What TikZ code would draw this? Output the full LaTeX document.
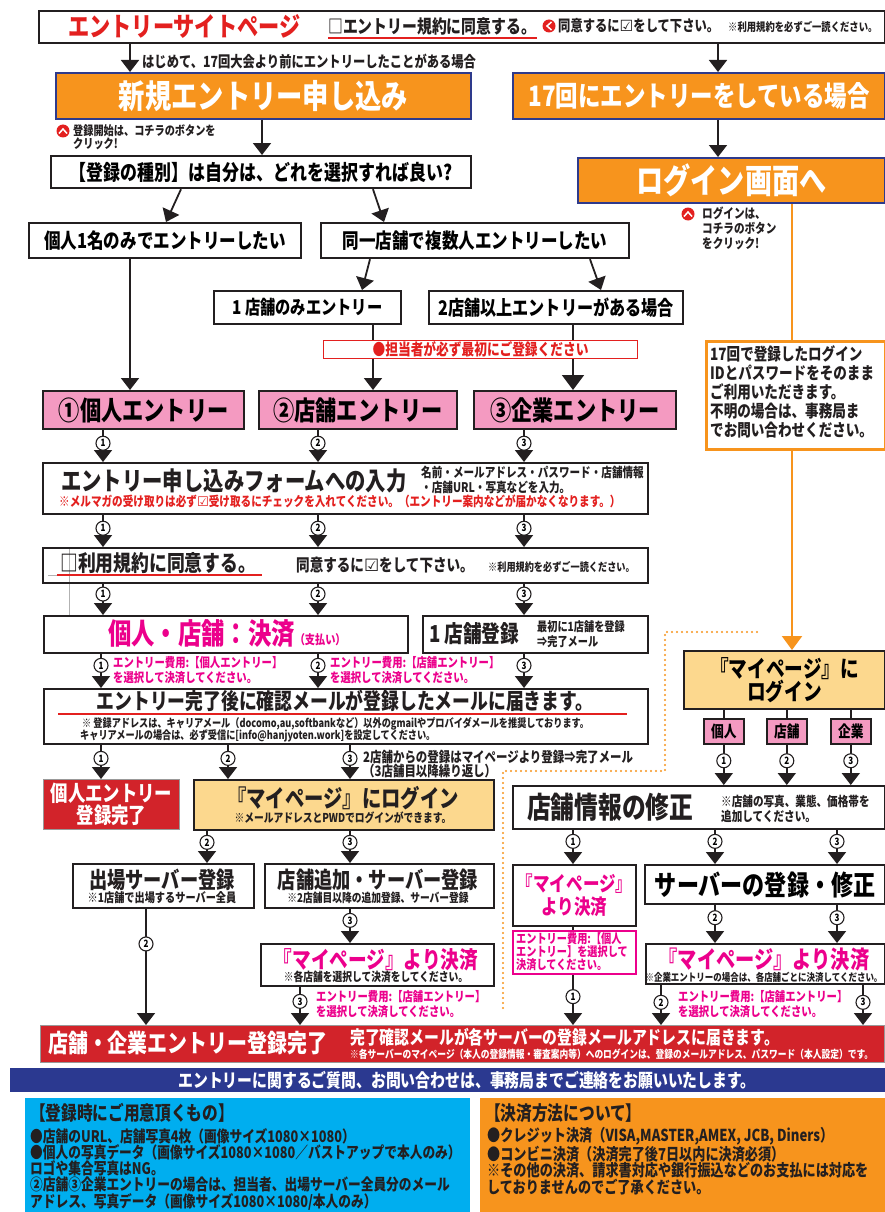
\documentclass[tikz,border=0pt]{standalone}
\usepackage{fontspec}
\setmainfont{Noto Sans CJK JP}[FakeStretch=0.8]
\newfontfamily\dv{DejaVu Sans}
\usetikzlibrary{arrows.meta}
\definecolor{dk}{HTML}{231F20}
\definecolor{orng}{HTML}{F7941D}
\definecolor{nv}{HTML}{2E3A8C}
\definecolor{rtxt}{HTML}{E3201F}
\definecolor{pinkf}{HTML}{F49AC1}
\definecolor{mag}{HTML}{EC008C}
\definecolor{redf}{HTML}{D2232A}
\definecolor{beige}{HTML}{FCD88E}
\definecolor{band}{HTML}{2B3990}
\definecolor{cyanf}{HTML}{00AEEF}
\newcommand\fz[1]{\fontsize{\fpeval{#1*1.06}}{\fpeval{#1*1.06}}\selectfont\bfseries}
\newcommand\fzs[2]{\fontsize{\fpeval{#1*1.06}}{#2}\selectfont\bfseries}
\newcommand\ck{{\dv\mdseries\char"2611}}
\tikzset{
 bx/.style={draw=dk, line width=2.2pt, fill=white, inner sep=0pt, anchor=north west},
 obx/.style={bx, draw=nv, line width=2pt, fill=orng, text=white},
 pbx/.style={bx, fill=pinkf},
 rbx/.style={bx, draw=black!40, line width=1pt, fill=redf, text=white},
 ybx/.style={bx, fill=beige},
 kbx/.style={bx, line width=1.6pt, fill=pinkf},
 tx/.style={inner sep=0pt, anchor=west, text=dk},
 tc/.style={inner sep=0pt, text=dk},
 arr/.style={draw=dk, line width=1.8pt, -{Triangle[width=18pt,length=12pt]}},
 ln/.style={draw=dk, line width=1.8pt},
 oarr/.style={draw=orng, line width=2.2pt, -{Triangle[width=20pt,length=14pt]}},
 num/.style={circle, draw=dk, line width=1.1pt, fill=white, inner sep=0pt, minimum size=14pt, font=\fz{9.5}},
 icon/.style={circle, fill=rtxt, inner sep=0pt, minimum size=13pt},
 uline/.style={draw=rtxt, line width=1.6pt},
}
\begin{document}
\begin{tikzpicture}[x=1pt,y=-1pt]
\useasboundingbox (0,0) rectangle (885,1212);
\fill[white] (0,0) rectangle (885,1212);
% column coordinates
\coordinate (Xa) at (130,0);
\coordinate (Xb) at (718,0);
\coordinate (Xc) at (262,0);
\coordinate (Xd) at (181,0);
\coordinate (Xe) at (166,0);
\coordinate (Xf) at (373,0);
\coordinate (Xg) at (384,0);
\coordinate (Xh) at (370,0);
\coordinate (Xi) at (362,0);
\coordinate (Xj) at (590,0);
\coordinate (Xk) at (601,0);
\coordinate (Xl) at (573,0);
\coordinate (Xo) at (792,0);
\coordinate (C1) at (103,0);
\coordinate (C2) at (318,0);
\coordinate (C3) at (524,0);
\coordinate (D1) at (101,0);
\coordinate (D2) at (228,0);
\coordinate (D3) at (350,0);
\coordinate (E2) at (207,0);
\coordinate (F1) at (146,0);
\coordinate (F3) at (300,0);
\coordinate (G1) at (573,0);
\coordinate (G2) at (715,0);
\coordinate (G3) at (837,0);
\coordinate (H2) at (661,0);
\coordinate (H3) at (863,0);

% ---------- top bar
\node[bx, minimum width=846, minimum height=32] (top) at (38,10) {};
\node[tx, text=rtxt, font=\fz{25}] (topT) at (68,26) {エントリーサイトページ};
\node[tx, font=\fz{17.5}] (topA) at (328,26) {□エントリー規約に同意する。};
\draw[uline] (328,38) -- (537,38);
\node[icon] (ic1) at (549,26) {};
\draw[white, line width=1.5pt] (551.5,22) -- (547,26) -- (551.5,30);
\node[tx, font=\fz{14.5}] (topB) at (558,26) {同意するに\ck をして下さい。};
\node[tx, font=\fz{11}] (topC) at (728,27) {※利用規約を必ずご一読ください。};

\node[tx, font=\fz{14.5}] (lbl1) at (142,62) {はじめて、17回大会より前にエントリーしたことがある場合};

\node[obx, minimum width=415, minimum height=46, font=\fz{31}] (new) at (55,72) {新規エントリー申し込み};
\node[obx, minimum width=372, minimum height=46, font=\fz{26.5}] (e17) at (512,72) {17回にエントリーをしている場合};

\node[icon] (ic2) at (63,131) {};
\draw[white, line width=1.5pt] (59,133.5) -- (63,129) -- (67,133.5);
\node[tx, font=\fzs{12}{13.5}, align=left] (note1) at (73,137) {登録開始は、コチラのボタンを\\クリック!};

\node[bx, minimum width=420, minimum height=32, font=\fz{20}] (kind) at (50,155) {【登録の種別】は自分は、どれを選択すれば良い?};
\node[obx, minimum width=307, minimum height=45, font=\fz{32}] (login) at (577,157) {ログイン画面へ};

\node[icon] (ic3) at (688,214) {};
\draw[white, line width=1.5pt] (684,216.5) -- (688,212) -- (692,216.5);
\node[tx, font=\fzs{12.5}{15}, align=left] (note2) at (702,228) {ログインは、\\コチラのボタン\\をクリック!};

\node[bx, minimum width=272, minimum height=35, font=\fz{19.5}] (solo) at (28,222) {個人1名のみでエントリーしたい};
\node[bx, minimum width=308, minimum height=35, font=\fz{19.5}] (multi) at (320,222) {同一店舗で複数人エントリーしたい};
\node[bx, minimum width=187, minimum height=33, font=\fz{18}] (one) at (213,290) {1\,店舗のみエントリー};
\node[bx, minimum width=254, minimum height=33, font=\fz{19}] (two) at (428,290) {2店舗以上エントリーがある場合};

\node[pbx, minimum width=201, minimum height=38, font=\fz{25}] (p1) at (42,390) {①個人エントリー};
\node[pbx, minimum width=198, minimum height=38, font=\fz{25}] (p2) at (258,390) {②店舗エントリー};
\node[pbx, minimum width=202, minimum height=38, font=\fz{25}] (p3) at (473,390) {③企業エントリー};

\node[bx, draw=orng, line width=2.5pt, minimum width=179, minimum height=108] (n17) at (705,340) {};
\node[tx, font=\fzs{16}{19}, align=left] (n17t) at (710,392) {17回で登録したログイン\\IDとパスワードをそのまま\\ご利用いただきます。\\不明の場合は、事務局ま\\でお問い合わせください。};

% form
\node[bx, minimum width=605, minimum height=51] (form) at (42,462) {};
\node[tx, font=\fz{24}] (formT) at (61,481) {エントリー申し込みフォームへの入力};
\node[tx, font=\fzs{12.5}{15.5}, align=left] (formS) at (421,480) {名前・メールアドレス・パスワード・店舗情報\\・店舗URL・写真などを入力。};
\node[tx, text=rtxt, font=\fz{12.5}] (formR) at (59,501) {※メルマガの受け取りは必ず\ck 受け取るにチェックを入れてください。（エントリー案内などが届かなくなります。）};

% agree
\draw[gray!60, line width=0.6pt] (69,548) -- (69,622);
\draw[gray!60, line width=0.6pt] (48,575) -- (77,575);
\node[bx, fill=none, minimum width=605, minimum height=35] (agree) at (42,547) {};
\node[tx, font=\fz{21}] (agT) at (60,563) {□利用規約に同意する。};
\draw[uline] (57,575) -- (262,575);
\node[tx, font=\fz{16}] (agB) at (296,565) {同意するに\ck をして下さい。};
\node[tx, font=\fz{10.8}] (agC) at (488,567) {※利用規約を必ずご一読ください。};

% pay / store1
\node[bx, minimum width=364, minimum height=37] (pay) at (43,615) {};
\node[tx, text=mag] (payT) at (108,634) {{\fz{27.5}個人・店舗：決済}{\fz{12}（支払い）}};
\node[bx, minimum width=225, minimum height=37] (st1) at (422,615) {};
\node[tx, font=\fz{22}] (st1T) at (429,634) {1\,店舗登録};
\node[tx, font=\fzs{12}{15}, align=left] (st1S) at (537,634) {最初に1店舗を登録\\⇒完了メール};

\node[tx, text=mag, font=\fzs{12.2}{14.5}, align=left] (fee1) at (113,670) {エントリー費用:【個人エントリー】\\を選択して決済してください。};
\node[tx, text=mag, font=\fzs{12.2}{14.5}, align=left] (fee2) at (330,670) {エントリー費用:【店舗エントリー】\\を選択して決済してください。};

% mail
\node[bx, minimum width=604, minimum height=55] (mail) at (43,688) {};
\node[tc, font=\fz{21}] (mailT) at (345,701) {エントリー完了後に確認メールが登録したメールに届きます。};
\draw[uline] (58,714) -- (627,714);
\node[tx, font=\fz{10.8}] (mailS1) at (82,724) {※ 登録アドレスは、キャリアメール（docomo,au,softbankなど）以外のgmailやプロバイダメールを推奨しております。};
\node[tx, font=\fz{10.8}] (mailS2) at (80,735.5) {キャリアメールの場合は、必ず受信に[info@hanjyoten.work]を設定してください。};

\node[tx, font=\fzs{13.5}{14.5}, align=left] (note3) at (363,764) {2店舗からの登録はマイページより登録⇒完了メール\\（3店舗目以降繰り返し）};

% row after mail
\node[rbx, minimum width=136, minimum height=50, font=\fzs{20.5}{22}, align=center] (done1) at (43,779) {個人エントリー\\登録完了};
\node[ybx, minimum width=300, minimum height=50] (mp1) at (193,779) {};
\node[tc, font=\fz{22.8}] (mp1T) at (343,798) {『マイページ』にログイン};
\node[tc, font=\fz{11.5}] (mp1S) at (343,818) {※メールアドレスとPWDでログインができます。};

\node[bx, minimum width=181, minimum height=44] (sv) at (72,863) {};
\node[tc, font=\fz{21.5}] (svT) at (162,880) {出場サーバー登録};
\node[tc, font=\fz{12}] (svS) at (162,898) {※1店舗で出場するサーバー全員};
\node[bx, minimum width=229, minimum height=44] (ad) at (264,863) {};
\node[tc, font=\fz{21.5}] (adT) at (378,880) {店舗追加・サーバー登録};
\node[tc, font=\fz{11.5}] (adS) at (378,898) {※2店舗目以降の追加登録、サーバー登録};

\node[bx, minimum width=233, minimum height=42] (pay2) at (260,943) {};
\node[tc, text=mag, font=\fz{22}] (pay2T) at (376,960) {『マイページ』より決済};
\node[tc, font=\fz{11.5}] (pay2S) at (376,977) {※各店舗を選択して決済をしてください。};
\node[tx, text=mag, font=\fzs{12.2}{14.5}, align=left] (fee3) at (316,1004) {エントリー費用:【店舗エントリー】\\を選択して決済してください。};

% right side
\node[ybx, minimum width=201, minimum height=58, font=\fzs{22}{23.5}, align=center] (mp2) at (683,650) {『マイページ』に\\ログイン};
\node[kbx, minimum width=40, minimum height=25, font=\fz{15}] (k1) at (703,718) {個人};
\node[kbx, minimum width=40, minimum height=25, font=\fz{15}] (k2) at (766,718) {店舗};
\node[kbx, minimum width=40, minimum height=25, font=\fz{15}] (k3) at (830,718) {企業};

\node[bx, minimum width=372, minimum height=43] (info) at (512,785) {};
\node[tx, font=\fz{28}] (infoT) at (527,807) {店舗情報の修正};
\node[tx, font=\fzs{12.5}{15.5}, align=left] (infoS) at (721,809) {※店舗の写真、業態、価格帯を\\追加してください。};

\node[bx, minimum width=123, minimum height=61, text=mag, font=\fzs{19.5}{23}, align=center] (mpay3) at (512,864) {『マイページ』\\より決済};
\node[bx, minimum width=240, minimum height=39, font=\fz{26}] (srv2) at (644,864) {サーバーの登録・修正};

\node[bx, minimum width=239, minimum height=40] (pay3) at (645,943) {};
\node[tc, text=mag, font=\fz{22.7}] (pay3T) at (764,959) {『マイページ』より決済};
\node[tc, font=\fz{10}] (pay3S) at (764,977) {※企業エントリーの場合は、各店舗ごとに決済してください。};
\node[tx, text=mag, font=\fzs{12.2}{14.5}, align=left] (fee4) at (678,1004) {エントリー費用:【店舗エントリー】\\を選択して決済してください。};

% final red
\node[rbx, minimum width=844, minimum height=37] (fin) at (40,1025) {};
\node[tx, text=white, font=\fz{23.5}] (finT) at (48,1043) {店舗・企業エントリー登録完了};
\node[tx, text=white, font=\fz{17.5}] (finA) at (350,1037) {完了確認メールが各サーバーの登録メールアドレスに届きます。};
\node[tx, text=white, font=\fz{10.3}] (finB) at (350,1054) {※各サーバーのマイページ（本人の登録情報・審査案内等）へのログインは、登録のメールアドレス、パスワード（本人設定）です。};

% dotted separator
\draw[orng, line width=2.4pt, dash pattern=on 0pt off 5pt, line cap=round] (757,632) -- (665,632) -- (665,771) -- (503,771) -- (503,1012);

% ---------- connectors
\draw[arr] (top.south -| Xa) -- (new.north -| Xa);
\draw[arr] (top.south -| Xb) -- (e17.north -| Xb);
\draw[arr] (new.south -| Xc) -- (kind.north -| Xc);
\draw[arr] (e17.south -| Xb) -- (login.north -| Xb);
\draw[arr] (kind.south -| Xd) -- (solo.north -| Xe);
\draw[arr] (kind.south -| Xf) -- (multi.north -| Xg);
\draw[arr] (multi.south -| Xh) -- (one.north -| Xi);
\draw[arr] (multi.south -| Xj) -- (two.north -| Xk);
\draw[arr] (solo.south -| Xa) -- (p1.north -| Xa);
\draw[arr] (one.south -| Xf) -- (p2.north -| Xf);
\draw[draw=dk, line width=1.8pt, -{Triangle[width=22pt,length=15pt]}] (two.south -| Xl) -- (p3.north -| Xl);
\draw[draw=orng, line width=2.2pt] (login.south -| Xo) -- (n17.north -| Xo);
\draw[oarr] (n17.south -| Xo) -- (mp2.north -| Xo);

\foreach \c/\n/\s in {C1/1/p1, C2/2/p2, C3/3/p3}{
  \draw[arr] (\s.south -| \c) -- node[num,pos=.41]{\n} (form.north -| \c);
  \draw[arr] (form.south -| \c) -- node[num,pos=.41]{\n} (agree.north -| \c);
}
\draw[arr] (agree.south -| C1) -- node[num,pos=.32]{1} (pay.north -| C1);
\draw[arr] (agree.south -| C2) -- node[num,pos=.32]{2} (pay.north -| C2);
\draw[arr] (agree.south -| C3) -- node[num,pos=.32]{3} (st1.north -| C3);
\draw[arr] (pay.south -| D1) -- node[num,pos=.33]{1} (mail.north -| D1);
\draw[arr] (pay.south -| C2) -- node[num,pos=.33]{2} (mail.north -| C2);
\draw[arr] (st1.south -| C3) -- node[num,pos=.33]{3} (mail.north -| C3);

\draw[arr] (mail.south -| D1) -- node[num,pos=.39]{1} (done1.north -| D1);
\draw[arr] (mail.south -| D2) -- node[num,pos=.39]{2} (mp1.north -| D2);
\draw[arr] (mail.south -| D3) -- node[num,pos=.39]{3} (mp1.north -| D3);
\draw[arr] (mp1.south -| E2) -- node[num,pos=.35]{2} (sv.north -| E2);
\draw[arr] (mp1.south -| D3) -- node[num,pos=.35]{3} (ad.north -| D3);
\draw[arr] (sv.south -| F1) -- node[num,pos=.3]{2} (fin.north -| F1);
\draw[arr] (ad.south -| D3) -- node[num,pos=.33]{3} (pay2.north -| D3);
\draw[arr] (pay2.south -| F3) -- node[num,pos=.375]{3} (fin.north -| F3);

\foreach \k in {k1,k2,k3}{ \draw[ln] (mp2.south -| \k.north) -- (\k.north); }
\draw[arr] (k1.south) -- node[num,pos=.4]{1} (info.north -| k1.south);
\draw[arr] (k2.south) -- node[num,pos=.4]{2} (info.north -| k2.south);
\draw[arr] (k3.south) -- node[num,pos=.4]{3} (info.north -| k3.south);
\draw[arr] (info.south -| G1) -- node[num,pos=.33]{1} (mpay3.north -| G1);
\draw[arr] (info.south -| G2) -- node[num,pos=.33]{2} (srv2.north -| G2);
\draw[arr] (info.south -| G3) -- node[num,pos=.33]{3} (srv2.north -| G3);
\draw[arr] (srv2.south -| G2) -- node[num,pos=.33]{2} (pay3.north -| G2);
\draw[arr] (srv2.south -| G3) -- node[num,pos=.33]{3} (pay3.north -| G3);
\draw[arr] (mpay3.south -| G1) -- node[num,pos=.71]{1} (fin.north -| G1);
\draw[arr] (pay3.south -| H2) -- node[num,pos=.43]{2} (fin.north -| H2);
\draw[arr] (pay3.south -| H3) -- node[num,pos=.43]{3} (fin.north -| H3);

% overlays
\node[bx, draw=rtxt, line width=1.2pt, minimum width=314, minimum height=18, text=rtxt, font=\fz{15}] (warn) at (323,340) {●担当者が必ず最初にご登録ください};
\node[bx, draw=mag, line width=1.5pt, minimum width=123, minimum height=43] (fee5box) at (512,930) {};
\node[tx, text=mag, font=\fzs{12}{12.8}, align=left] (fee5) at (516,951.5) {エントリー費用:【個人\\エントリー】を選択して\\決済してください。};

% ---------- bottom
\node[inner sep=0pt, anchor=north west, fill=band, minimum width=875, minimum height=24] (band) at (10,1068) {};
\node[tc, text=white, font=\fz{17.5}] (bandT) at (467,1080) {エントリーに関するご質問、お問い合わせは、事務局までご連絡をお願いいたします。};

\node[inner sep=0pt, anchor=north west, fill=cyanf, minimum width=445, minimum height=114] (cy) at (25,1098) {};
\node[tx, font=\fz{18.5}] (cyT) at (30,1113) {【登録時にご用意頂くもの】};
\node[tx, font=\fzs{15}{16.25}, align=left] (cyL) at (30,1169) {●店舗のURL、店舗写真4枚（画像サイズ1080×1080）\\●個人の写真データ（画像サイズ1080×1080／バストアップで本人のみ）\\ロゴや集合写真はNG。\\②店舗③企業エントリーの場合は、担当者、出場サーバー全員分のメール\\アドレス、写真データ（画像サイズ1080×1080/本人のみ）};

\node[inner sep=0pt, anchor=north west, fill=orng, minimum width=405, minimum height=114] (og) at (480,1098) {};
\node[tx, font=\fz{18.5}] (ogT) at (485,1113) {【決済方法について】};
\node[tx, font=\fzs{15.5}{16.25}, align=left] (ogL) at (487,1161) {●クレジット決済（VISA,MASTER,AMEX, JCB, Diners）\\●コンビニ決済（決済完了後7日以内に決済必須）\\※その他の決済、請求書対応や銀行振込などのお支払には対応を\\しておりませんのでご了承ください。};
\end{tikzpicture}
\end{document}
